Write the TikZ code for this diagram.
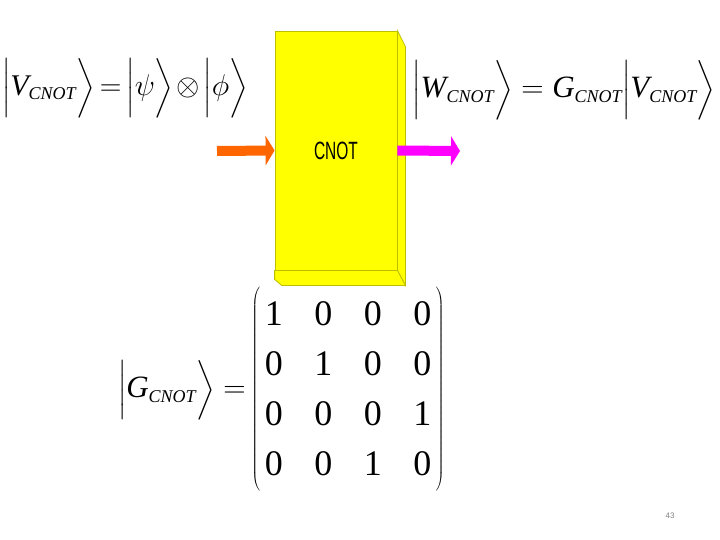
\RequirePackage{fix-cm}
\documentclass[tikz,border=0pt]{standalone}
\usepackage{tikz}
\usepackage{xcolor}
\usepackage{amsmath}
\usepackage{fontspec}
\setmainfont{Liberation Serif}
\setsansfont{Liberation Sans}
\usetikzlibrary{calc}
\usetikzlibrary{arrows.meta, matrix, positioning}
\definecolor{gateyellow}{RGB}{255,255,0}
\definecolor{gateline}{RGB}{190,190,0}
\definecolor{inorange}{RGB}{255,102,0}
\definecolor{outmagenta}{RGB}{255,0,255}
\newcommand{\gsub}[1]{\text{\fontsize{18}{20}\selectfont\itshape #1}}
\newcommand{\gvar}[1]{\text{\itshape #1}}
\newcommand{\tightmath}{\thickmuskip=3mu\relax\medmuskip=2mu\relax}

\begin{document}
\begin{tikzpicture}[x=1pt, y=-1pt,
		eqn/.style={inner sep=0pt, font=\fontsize{30}{36}\selectfont},
		face/.style={fill=gateyellow, draw=gateline, line width=0.8pt},
		flow/.style={line width=10pt, -{Triangle[length=9pt, width=29pt]}}]
		\useasboundingbox (0,0) rectangle (720,540);
		
		\node[eqn] at (125,88) (vin) {$\tightmath\Bigl|\gvar{V}_{\gsub{CNOT}}\Bigr\rangle = \Bigl|\psi\Bigr\rangle \otimes \Bigl|\phi\Bigr\rangle$};
		\node[eqn, font=\fontsize{31}{36}\selectfont] at (564,90) (wout) {$\Bigl|\gvar{W}_{\gsub{CNOT}}\Bigr\rangle = \gvar{G}_{\gsub{CNOT}}\Bigl|\gvar{V}_{\gsub{CNOT}}\Bigr\rangle$};
		
		% gate block
		\node[face, rectangle, minimum width=122pt, minimum height=239pt, inner sep=0pt, font=\sffamily\fontsize{25}{30}\selectfont] at (336,150.5) (gate) {\scalebox{0.62}[1]{CNOT}};
		\draw[face] (gate.north east) -- ++(8,16) -- ($(gate.south east)+(8,15)$) -- (gate.south east) -- cycle;
		\draw[face] (gate.south west) -- (gate.south east) -- ++(8,15) -- ($(gate.south west)+(7,15)$) -- ($(gate.south west)+(0,9)$) -- cycle;
		
		\coordinate (src) at (217,151);
		\coordinate (dst) at (460,151);
		\path[flow, draw=inorange] (src) -- (gate.west);
		\path[flow, draw=outmagenta] (gate.east) -- (dst);
		
		% gate matrix
		\matrix (gmat) at (348,389) [matrix of nodes, left delimiter=(, right delimiter=), column sep=31.5pt,
			nodes={inner sep=0pt, minimum height=50pt, font=\fontsize{36}{40}\selectfont}] {
			1 & 0 & 0 & 0 \\
			0 & 1 & 0 & 0 \\
			0 & 0 & 0 & 1 \\
			0 & 0 & 1 & 0 \\
		};
		\node[eqn, anchor=east, font=\fontsize{31}{36}\selectfont] at (246,390) (geq) {$\Bigl|\gvar{G}_{\gsub{CNOT}}\Bigr\rangle =$};
		
		\node[font=\sffamily\fontsize{8}{9}\selectfont, text=gray] at (670,516) (pgno) {43};
	\end{tikzpicture}
\end{document}
